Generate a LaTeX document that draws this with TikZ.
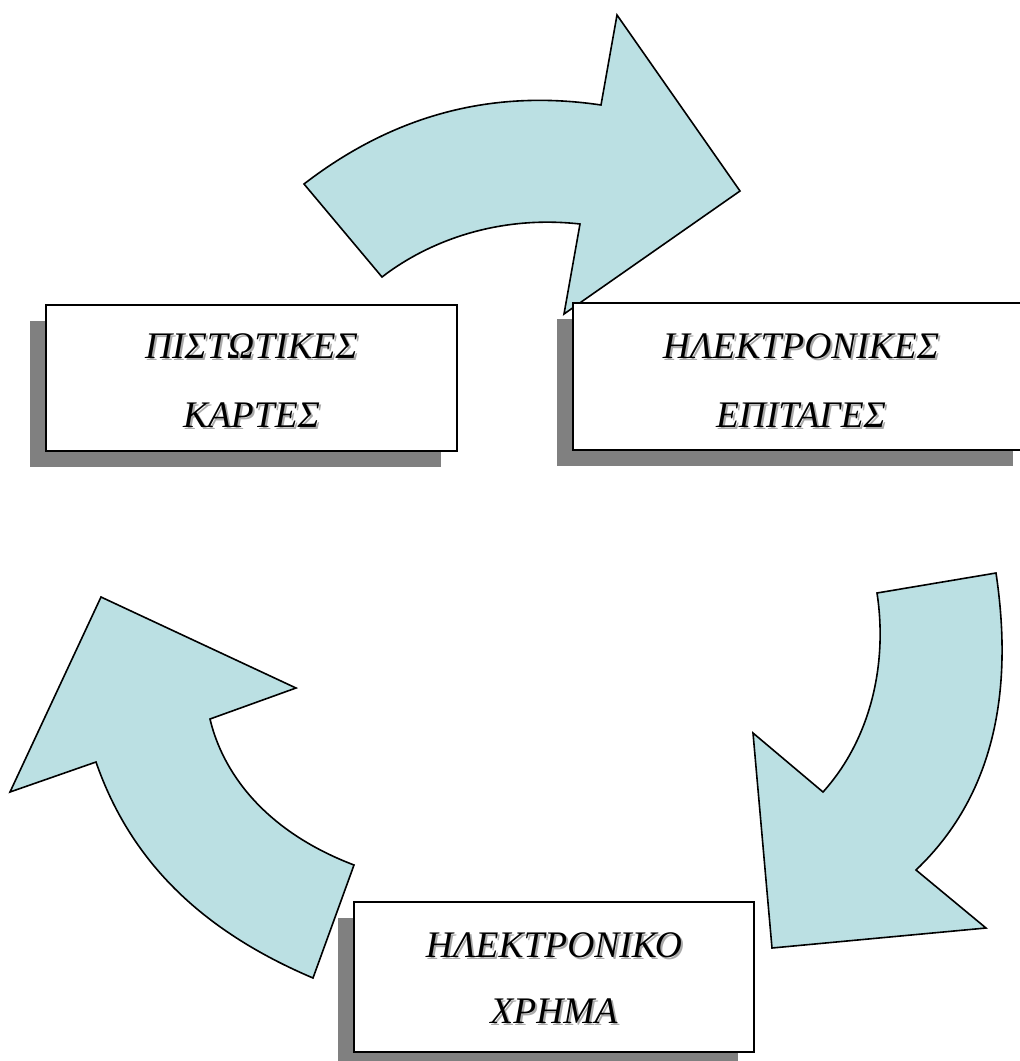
\documentclass[tikz,border=0pt]{standalone}
\usepackage{fontspec}
\setmainfont{Liberation Serif}
\definecolor{arrowfill}{RGB}{187,224,227}
\definecolor{shadowgray}{RGB}{128,128,128}
\definecolor{txtshadow}{RGB}{170,170,170}
\tikzset{
  cyclearrow/.style={fill=arrowfill, draw=black, line width=1.6pt, line join=miter},
  box/.style={draw=black, fill=white, line width=1.8pt, inner sep=0pt},
  boxshadow/.style={fill=shadowgray},
  lbl/.style={font=\fontsize{37.5}{37.5}\selectfont\itshape, anchor=base, inner sep=0pt},
  lblshadow/.style={lbl, text=txtshadow},
}
\newcommand{\shadowtext}[3]{%
  \node[lblshadow] at (#1+2,#2+2) {#3};
  \node[lbl] at (#1,#2) {#3};}
\begin{document}
\begin{tikzpicture}[x=1pt,y=-1pt]
\useasboundingbox (0,0) rectangle (1020,1061);
\clip (0,0) rectangle (1020,1061);

% top arrow
\draw[cyclearrow] (304,184) .. controls (400,110) and (500,90) .. (601,105)
  -- (617,15) -- (740,191) -- (564,314) -- (580,224)
  .. controls (500,215) and (430,240) .. (382,277) -- cycle;
% right arrow
\draw[cyclearrow] (996,573) .. controls (1012,680) and (1000,790) .. (916,870)
  -- (986,928) -- (772,948) -- (753,733) -- (823,792)
  .. controls (870,740) and (888,665) .. (877,593) -- cycle;
% left arrow
\draw[cyclearrow] (354,865) -- (313,978) .. controls (200,930) and (130,860) .. (96,762)
  -- (10,792) -- (101,597) -- (296,688) -- (210,719)
  .. controls (222,770) and (262,830) .. (354,865) -- cycle;

% boxes
\fill[boxshadow] (30,321) rectangle (441,467);
\node[box, minimum width=411pt, minimum height=146pt] (b1) at (251.5,378) {};
\fill[boxshadow] (557,319) rectangle (1013,466);
\node[box, minimum width=456pt, minimum height=147pt] (b2) at (801,376.5) {};
\fill[boxshadow] (338,918) rectangle (738,1068);
\node[box, minimum width=400pt, minimum height=150pt] (b3) at (554,977) {};

\shadowtext{251.5}{358}{ΠΙΣΤΩΤΙΚΕΣ}
\shadowtext{251.5}{427}{ΚΑΡΤΕΣ}
\shadowtext{801}{358}{ΗΛΕΚΤΡΟΝΙΚΕΣ}
\shadowtext{801}{427}{ΕΠΙΤΑΓΕΣ}
\shadowtext{554}{957}{ΗΛΕΚΤΡΟΝΙΚΟ}
\shadowtext{554}{1023}{ΧΡΗΜΑ}
\end{tikzpicture}
\end{document}
